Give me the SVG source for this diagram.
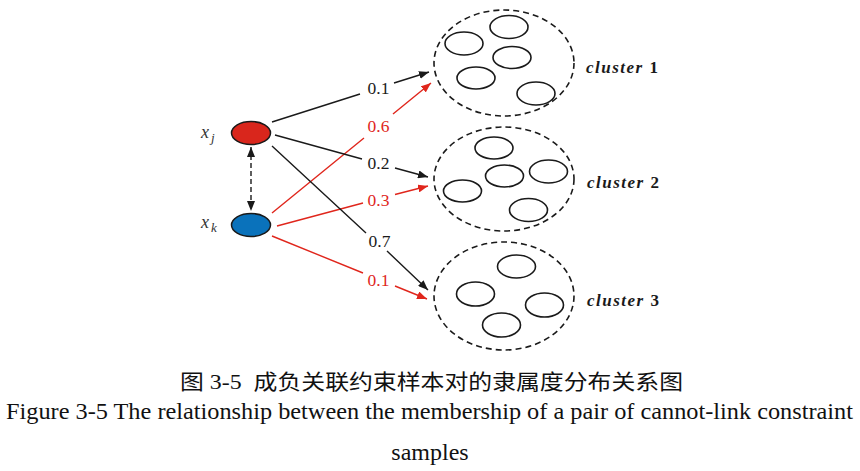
<svg xmlns="http://www.w3.org/2000/svg" width="860" height="471" viewBox="0 0 860 471">
<style>
.bk{stroke:#1a1a1a;stroke-width:1.4;fill:none}
.rd{stroke:#e0261c;stroke-width:1.4;fill:none}
.cl{stroke:#1a1a1a;stroke-width:1.6;fill:none;stroke-dasharray:6,4}
.in{stroke:#1a1a1a;stroke-width:1.6;fill:none}
.lb{font-family:"Liberation Serif",serif;font-size:17.5px;text-anchor:middle}
.ct{font-family:"Liberation Serif",serif;font-size:17px;font-weight:bold;fill:#1a1a1a;letter-spacing:1.5px}
.var{font-family:"Liberation Serif",serif;font-style:italic;fill:#333}
.cap{font-family:"Liberation Serif","Noto Sans CJK SC",serif;fill:#111}
</style>
<defs>
<marker id="ab" markerUnits="userSpaceOnUse" markerWidth="11" markerHeight="8" refX="10" refY="4" orient="auto-start-reverse"><path d="M0,0 L10,4 L0,8 z" fill="#1a1a1a"/></marker>
<marker id="ar" markerUnits="userSpaceOnUse" markerWidth="11" markerHeight="8" refX="10" refY="4" orient="auto"><path d="M0,0 L10,4 L0,8 z" fill="#e0261c"/></marker>
</defs>
<g id="connectors">
<path class="bk" d="M272,122 L360,94 M394,83 L429,72" marker-end="url(#ab)"/>
<path class="rd" d="M272,213 L364,138 M393,114 L431,83" marker-end="url(#ar)"/>
<path class="bk" d="M275,135 L362,159 M395,168 L428,177" marker-end="url(#ab)"/>
<path class="rd" d="M277,226 L363,203 M395,194.5 L428,186" marker-end="url(#ar)"/>
<path class="bk" d="M272,146 L366,233 M387,251 L428,290" marker-end="url(#ab)"/>
<path class="rd" d="M272,236 L363,273 M395,286 L427,299" marker-end="url(#ar)"/>
<path class="bk" d="M251,147 L251,211" stroke-dasharray="5,3" marker-start="url(#ab)" marker-end="url(#ab)"/>
<text class="lb" x="378.5" y="94" fill="#1a1a1a">0.1</text>
<text class="lb" x="378.5" y="132" fill="#e0261c">0.6</text>
<text class="lb" x="378.5" y="169" fill="#1a1a1a">0.2</text>
<text class="lb" x="378.5" y="206" fill="#e0261c">0.3</text>
<text class="lb" x="379.5" y="247" fill="#1a1a1a">0.7</text>
<text class="lb" x="378.5" y="286" fill="#e0261c">0.1</text>
</g>
<g id="xj">
<ellipse cx="251" cy="133" rx="19.5" ry="11.5" fill="#d9261c" stroke="#1a1a1a" stroke-width="1.5"/>
<text class="var" x="201" y="138" font-size="18">x<tspan font-size="13" dx="2" dy="4">j</tspan></text>
</g>
<g id="xk">
<ellipse cx="251" cy="225" rx="19.5" ry="11.5" fill="#0a72bb" stroke="#1a1a1a" stroke-width="1.5"/>
<text class="var" x="201" y="228" font-size="18">x<tspan font-size="13" dx="2" dy="4">k</tspan></text>
</g>
<g id="cluster1">
<ellipse class="cl" cx="504" cy="63" rx="70" ry="53"/>
<ellipse class="in" cx="464" cy="43.5" rx="19" ry="11.5"/>
<ellipse class="in" cx="509" cy="27" rx="19" ry="11.5"/>
<ellipse class="in" cx="512" cy="57.5" rx="19" ry="11"/>
<ellipse class="in" cx="476" cy="78" rx="19" ry="11"/>
<ellipse class="in" cx="536" cy="93.5" rx="19" ry="11.5"/>
<text class="ct" x="586" y="73"><tspan font-style="italic">cluster</tspan> 1</text>
</g>
<g id="cluster2">
<ellipse class="cl" cx="504" cy="179" rx="70" ry="52"/>
<ellipse class="in" cx="494" cy="148" rx="19" ry="11"/>
<ellipse class="in" cx="504.5" cy="176" rx="19" ry="11"/>
<ellipse class="in" cx="548.5" cy="171.5" rx="19" ry="11.5"/>
<ellipse class="in" cx="462.5" cy="191" rx="19" ry="11"/>
<ellipse class="in" cx="528.5" cy="210" rx="19" ry="11.5"/>
<text class="ct" x="587" y="188"><tspan font-style="italic">cluster</tspan> 2</text>
</g>
<g id="cluster3">
<ellipse class="cl" cx="504" cy="296" rx="70" ry="54"/>
<ellipse class="in" cx="516.5" cy="266.5" rx="19" ry="11.5"/>
<ellipse class="in" cx="475.5" cy="294" rx="19" ry="12"/>
<ellipse class="in" cx="544.5" cy="305" rx="19" ry="12"/>
<ellipse class="in" cx="501.5" cy="325" rx="19" ry="12"/>
<text class="ct" x="587" y="306"><tspan font-style="italic">cluster</tspan> 3</text>
</g>
<g id="caption">
<text class="cap" x="180" y="389" font-size="21" textLength="503" lengthAdjust="spacingAndGlyphs" xml:space="preserve">图 3-5  成负关联约束样本对的隶属度分布关系图</text>
<text class="cap" x="6" y="419" font-size="24" textLength="847" lengthAdjust="spacingAndGlyphs">Figure 3-5 The relationship between the membership of a pair of cannot-link constraint</text>
<text class="cap" x="430" y="460" font-size="24" text-anchor="middle">samples</text>
</g>
</svg>
